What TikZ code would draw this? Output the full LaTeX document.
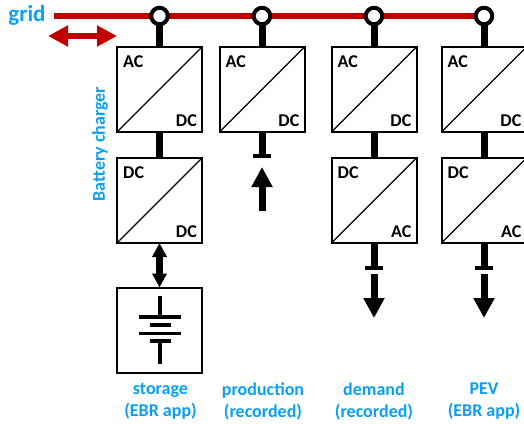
\documentclass[tikz,border=0pt]{standalone}
\usepackage{fontspec}
\setmainfont{Carlito}
\usetikzlibrary{arrows.meta}
\definecolor{gridred}{HTML}{C00000}
\definecolor{labelblue}{HTML}{0A9FF5}
\tikzset{
  conv/.style={draw,line width=2pt,minimum size=85pt,inner sep=0pt,outer sep=0pt},
  convtext/.style={font=\fontsize{18}{18}\selectfont\bfseries,inner sep=0pt},
  wire/.style={line width=7pt},
  bar/.style={line width=4.5pt},
  flow/.style={line width=7pt,-{Triangle[width=20pt,length=20pt]}},
  plate/.style={line width=3.3pt},
  bluetext/.style={font=\fontsize{18}{22}\selectfont\bfseries,text=labelblue,align=center,inner sep=0pt},
  tap/.style={circle,draw,line width=4pt,fill=white,minimum size=16.5pt,inner sep=0pt,outer sep=0pt}
}
\newcommand{\conv}[4]{% name, position, top left, bottom right
\node[conv] (#1) at (#2) {};
\draw[line width=1.1pt] (#1.south west) -- (#1.north east);
\node[convtext,anchor=north west] (#1a) at ([shift={(6pt,-8pt)}]#1.north west) {#3};
\node[convtext,anchor=south east] (#1b) at ([shift={(-5pt,5.5pt)}]#1.south east) {#4};
}
\begin{document}
\begin{tikzpicture}[x=1pt,y=-1pt]
\useasboundingbox (0,0) rectangle (524,423);
% grid
\coordinate (gridstart) at (54,16);
\coordinate (gridend) at (484,16);
\draw[gridred,line width=6.5pt] (gridstart) -- (gridend);
\node[bluetext,font=\fontsize{23}{23}\selectfont\bfseries] (grid) at (27,15) {grid};
\coordinate (exportl) at (48,36);
\coordinate (exportr) at (117,36);
\draw[gridred,line width=6.5pt,{Triangle[width=20pt,length=20pt]}-{Triangle[width=20pt,length=20pt]}] (exportl) -- (exportr);
% converters
\conv{acone}{159.5,89.5}{AC}{DC}
\conv{dcone}{159.5,200.5}{DC}{DC}
\conv{actwo}{262,89.5}{AC}{DC}
\conv{acthree}{374,89.5}{AC}{DC}
\conv{dcthree}{374,200.5}{DC}{AC}
\conv{acfour}{484,89.5}{AC}{DC}
\conv{dcfour}{484,200.5}{DC}{AC}
% taps on the grid
\foreach \n/\x in {one/159.5,two/262,three/374,four/484}{
\node[tap] (tap\n) at (\x,16) {};
\draw[wire] (tap\n) -- (ac\n);
}
\draw[wire] (acone) -- (dcone);
\draw[wire] (acthree) -- (dcthree);
\draw[wire] (acfour) -- (dcfour);
%%%%
\node[conv] (store) at (159.5,330) {};
\draw[line width=7pt,{Triangle[width=14pt,length=14pt]}-{Triangle[width=14pt,length=14pt]}] (dcone) -- (store);
% battery
\coordinate (battop) at (160,296);
\coordinate (batbot) at (160,364);
\coordinate (batone) at (160,317);
\coordinate (batfour) at (160,341);
\draw[plate] (battop) -- (batone);
\draw[plate] (batfour) -- (batbot);
\draw[plate] (139,317) -- (181,317);
\draw[plate] (150,325) -- (171,325);
\draw[plate] (139,333.5) -- (181,333.5);
\draw[plate] (150,341) -- (171,341);
% production
\coordinate (barprod) at (262,156);
\coordinate (prodfrom) at (262,211);
\coordinate (prodto) at (262,167);
\draw[wire] (actwo) -- (barprod);
\draw[bar] (253,156) -- (271,156);
\draw[flow] (prodfrom) -- (prodto);
% demand and PEV
\foreach \n/\x in {three/374,four/484}{
\coordinate (bar\n) at (\x,268);
\coordinate (from\n) at (\x,274);
\coordinate (to\n) at (\x,318);
\draw[wire] (dc\n) -- (bar\n);
\draw[bar] (\x-9,268) -- (\x+9,268);
\draw[flow] (from\n) -- (to\n);
}
% labels
\node[bluetext,rotate=90] (charger) at (100,144) {Battery charger};
\node[bluetext] (lstore) at (160.5,401.5) {storage\\(EBR app)};
\node[bluetext] (lprod) at (263,401.5) {production\\(recorded)};
\node[bluetext] (ldem) at (374,401.5) {demand\\(recorded)};
\node[bluetext] (lpev) at (484,401.5) {PEV\\(EBR app)};
\end{tikzpicture}
\end{document}
